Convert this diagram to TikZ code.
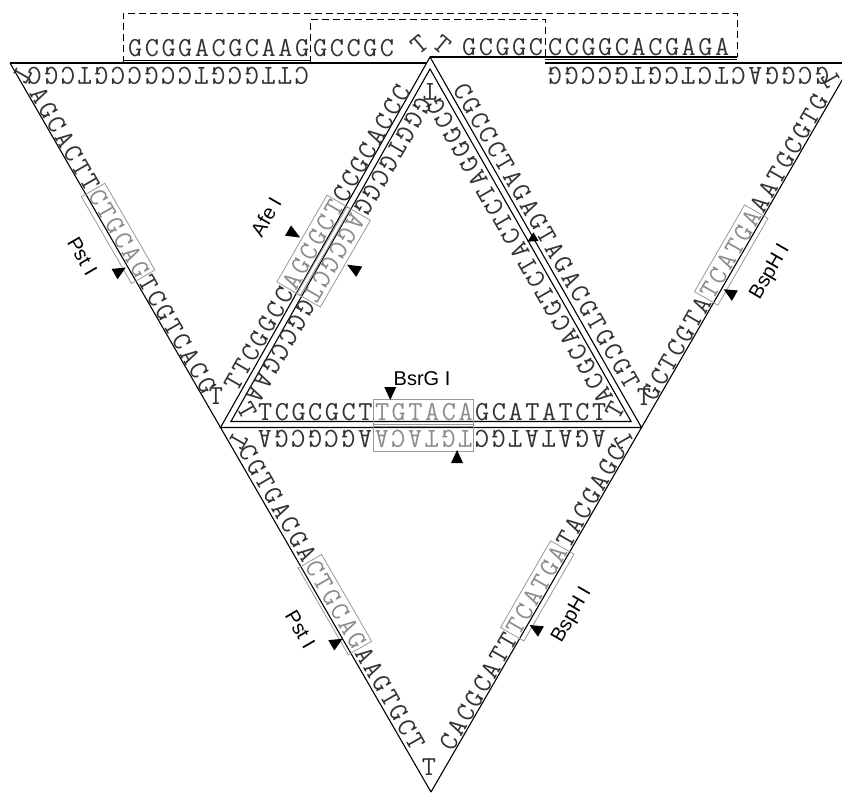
\documentclass[tikz,border=0pt]{standalone}
\usepackage{fontspec}
\newfontfamily\labelfont{Liberation Sans}
\definecolor{seqcol}{gray}{0.2}
\definecolor{sitecol}{gray}{0.55}
\definecolor{boxcol}{gray}{0.6}
\newlength\dnap
\setlength\dnap{16.7pt}
\def\pp{16.7}
\def\dnaloop#1{\ifx#1\relax\else\makebox[\dnap][c]{#1}\expandafter\dnaloop\fi}
\newcommand\dnaseq[1]{\dnaloop#1\relax}
\newcommand\dnasite[1]{{\color{sitecol}\dnaloop#1\relax}}
\newcommand\dnafont{\fontsize{27.5}{27.5}\selectfont\ttfamily}
\newcommand\cutarrow[3]{\fill[black] ({#1-6},#3) -- ({#1+6},#3) -- ({#1},#2) -- cycle;}
\tikzset{
  seq/.style={font=\dnafont, text=seqcol, inner sep=0pt, anchor=base west},
  cornerT/.style={font=\dnafont, text=seqcol, inner sep=0pt, anchor=center},
  strandline/.style={line width=1.1pt, draw=black},
  dashbox/.style={line width=1pt, draw=black, dash pattern=on 7pt off 4pt},
  sitebox/.style={draw=boxcol, line width=0.8pt},
  enzyme/.style={font=\labelfont\fontsize{20}{20}\selectfont, inner sep=0pt, text=black},
}
\begin{document}
\begin{tikzpicture}[x=1pt,y=-1pt]
\useasboundingbox (0,0) rectangle (842,793);
\fill[white] (0,0) rectangle (842,793);
\clip (0,0) rectangle (842,793);

% vertices
\coordinate (A) at (10,63);
\coordinate (B) at (852,63);
\coordinate (C) at (431,792);
\coordinate (Ap) at (430,57);
\coordinate (L) at (220.5,427.5);
\coordinate (R) at (641.5,427.5);
\coordinate (Ai) at (430,69);
\coordinate (Li) at (230.9,421.5);
\coordinate (Ri) at (631.1,421.5);
\coordinate (TLe) at (427,63);
\coordinate (TRs) at (545,63);
\coordinate (s1a) at (123,60.5);
\coordinate (s1b) at (310,60.5);
\coordinate (s2b) at (737,57);
\coordinate (s3a) at (545,59.5);
\coordinate (s3b) at (737,59.5);
\coordinate (d1a) at (123,63);
\coordinate (d1b) at (123,13);
\coordinate (d1c) at (737,13);
\coordinate (d1d) at (737,57);
\coordinate (d2a) at (310,63);
\coordinate (d2b) at (310,19.5);
\coordinate (d2c) at (545,19.5);
\coordinate (d2d) at (545,57);

% frame lines
\draw[strandline] (A) -- (C);
\draw[strandline] (B) -- (C);
\draw[strandline] (A) -- (TLe);
\draw[strandline] (TRs) -- (B);
\draw[strandline] (Ap) -- (L) -- (R) -- cycle;
\draw[strandline] (Ai) -- (Li) -- (Ri) -- cycle;
\draw[strandline] (s1a) -- (s1b);
\draw[strandline] (Ap) -- (s2b);
\draw[strandline] (s3a) -- (s3b);
\draw[dashbox] (d1a) -- (d1b) -- (d1c) -- (d1d);
\draw[dashbox] (d2a) -- (d2b) -- (d2c) -- (d2d);

% top strand
\node[seq] (t1) at (126.65,56) {\dnaseq{GCGGACGCAAG}};
\node[seq] (t2) at (311.65,56) {\dnaseq{GCCGC}};
\node[cornerT, rotate=40] (t3) at (420,45) {T};
\node[cornerT, rotate=-40] (t4) at (442,45) {T};
\node[seq] (t5) at (460.65,55) {\dnaseq{GCGGC}};
\node[seq] (t6) at (546.65,55) {\dnaseq{CCGGCACGAGA}};

% upside-down top rows
\node[seq, rotate=180] (s11) at (310.35,67) {\dnaseq{CTTGCGTCCGCCGTCGC}};
\node[seq, rotate=180] (s12) at (830.55,67) {\dnaseq{GCGGACTCTCGTGCCGG}};

% S1 left triangle, left edge
\begin{scope}[shift={(28.2,92.5)}, rotate=-60, transform shape]
  \node[seq] (s1) at (0,0) {\dnaseq{AGCACTT}\dnasite{CTGCAG}\dnaseq{TCGTCACG}};
  \draw[sitebox] ({7*\pp},6) rectangle ({13*\pp},-21);
  \cutarrow{12*\pp}{3}{16}
  \node[enzyme] (e1) at (169,35) {Pst I};
\end{scope}

% S2 centre left, outer
\begin{scope}[shift={(236.6,393.65)}, rotate=60, transform shape]
  \node[seq] (s2) at (0,0) {\dnaseq{TTCGGCC}\dnasite{AGCGCT}\dnaseq{CCGCACCC}};
  \draw[sitebox] ({7*\pp},6) rectangle ({13*\pp},-21);
  \cutarrow{10*\pp}{-23}{-37}
  \node[enzyme] (e2) at (168,-63) {Afe I};
\end{scope}

% S3 centre left, inner
\begin{scope}[shift={(419,94.1)}, rotate=240, transform shape]
  \node[seq] (s3) at (0,0) {\dnaseq{GGGTGCGG}\dnasite{AGCGCT}\dnaseq{GGCCGAA}};
  \draw[sitebox] ({8*\pp},6) rectangle ({14*\pp},-21);
  \cutarrow{11*\pp}{-23}{-37}
\end{scope}

% S4 centre right, outer
\begin{scope}[shift={(451.4,88.1)}, rotate=-60, transform shape]
  \node[seq] (s4) at (0,0) {\dnaseq{CGCCCTAGAGTAGACGTGCGT}};
  \fill[black] (166,1) -- (176,1) -- (171,11) -- cycle;
\end{scope}

% S5 centre right, inner
\begin{scope}[shift={(614.5,398.8)}, rotate=120, transform shape]
  \node[seq] (s5) at (0,0) {\dnaseq{ACGCACGTCTACTCTAGGGCG}};
\end{scope}

% S6 centre base, inner
\begin{scope}[shift={(256.65,420)}]
  \node[seq] (s6) at (0,0) {\dnaseq{TCGCGCT}\dnasite{TGTACA}\dnaseq{GCATATCT}};
  \draw[sitebox] ({7*\pp},6) rectangle ({13*\pp},-21);
  \cutarrow{8*\pp}{-20}{-33}
\end{scope}
\node[enzyme] (e4) at (422,379) {BsrG I};

% S7 centre base, outer (bottom triangle)
\begin{scope}[shift={(607.35,430)}, rotate=180, transform shape]
  \node[seq] (s7) at (0,0) {\dnaseq{AGATATGC}\dnasite{TGTACA}\dnaseq{AGCGCGA}};
  \draw[sitebox] ({8*\pp},6) rectangle ({14*\pp},-21);
  \cutarrow{9*\pp}{-20}{-33}
\end{scope}

% S8 right triangle, right edge
\begin{scope}[shift={(654.2,403.4)}, rotate=60, transform shape]
  \node[seq] (s8) at (0,0) {\dnaseq{GCTCGTA}\dnasite{TCATGA}\dnaseq{AATGCGTG}};
  \draw[sitebox] ({7*\pp},6) rectangle ({13*\pp},-21);
  \cutarrow{8*\pp}{3}{16}
  \node[enzyme] (e5) at (172,35) {BspH I};
\end{scope}

% S9 bottom triangle, left edge
\begin{scope}[shift={(236.6,449.3)}, rotate=-60, transform shape]
  \node[seq] (s9) at (0,0) {\dnaseq{CGTGACGA}\dnasite{CTGCAG}\dnaseq{AAGTGCT}};
  \draw[sitebox] ({8*\pp},6) rectangle ({14*\pp},-21);
  \cutarrow{13*\pp}{3}{16}
  \node[enzyme] (e6) at (188,35) {Pst I};
\end{scope}

% S10 bottom triangle, right edge
\begin{scope}[shift={(451.9,753.7)}, rotate=60, transform shape]
  \node[seq] (s10) at (0,0) {\dnaseq{CACGCATT}\dnasite{TCATGA}\dnaseq{TACGAGC}};
  \draw[sitebox] ({8*\pp},6) rectangle ({14*\pp},-21);
  \cutarrow{9*\pp}{3}{16}
  \node[enzyme] (e7) at (180,35) {BspH I};
\end{scope}

% corner T's
\node[cornerT, rotate=240] (c1) at (22,75) {T};
\node[cornerT] (c2) at (216,396) {T};
\node[cornerT, rotate=-60] (c3) at (247,410) {T};
\node[cornerT, rotate=240] (c4) at (238,441) {T};
\node[cornerT] (c5) at (429,767) {T};
\node[cornerT, rotate=120] (c6) at (624,441) {T};
\node[cornerT, rotate=60] (c7) at (615,410) {T};
\node[cornerT] (c8) at (644,397) {T};
\node[cornerT, rotate=120] (c9) at (831,80) {T};
\node[cornerT, rotate=180] (c10) at (430,92) {T};
\end{tikzpicture}
\end{document}
